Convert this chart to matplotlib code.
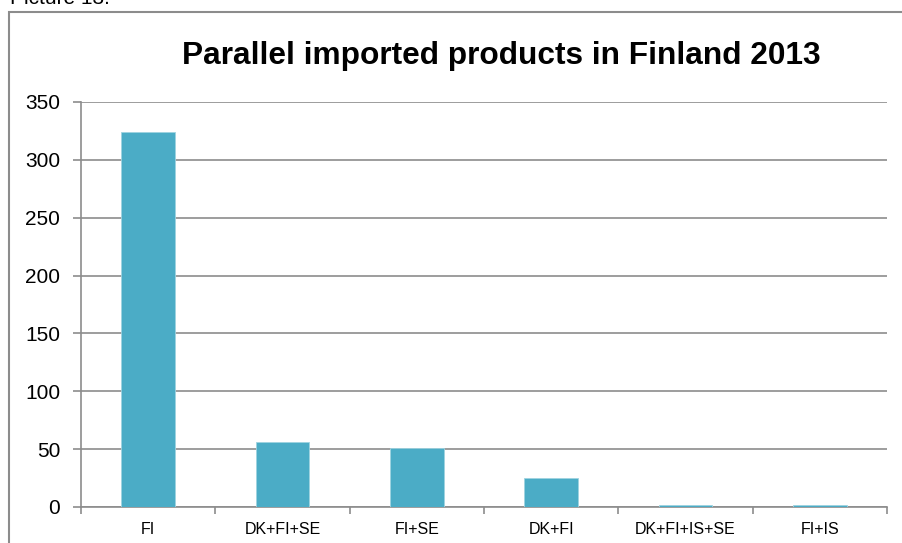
import matplotlib.pyplot as plt
from matplotlib.patches import Rectangle

plt.rcParams['font.family'] = ['Liberation Sans', 'DejaVu Sans']

categories = ["FI", "DK+FI+SE", "FI+SE", "DK+FI", "DK+FI+IS+SE", "FI+IS"]
values = [324, 56, 51, 25, 2, 2]
y_ticks = [0, 50, 100, 150, 200, 250, 300, 350]

W, H = 903, 543
fig = plt.figure(figsize=(W / 100, H / 100), dpi=100)

# outer frame, runs off the right and bottom edges like the cropped screenshot
fig.patches.append(Rectangle((9.5 / W, -0.1), 1.2, 1.1 - 12.5 / H,
                             transform=fig.transFigure, fill=False,
                             edgecolor="#8c8c8c", linewidth=1.5))
fig.text(10 / W, 1 - 4 / H, "Picture 13.", fontsize=15, va="baseline", ha="left")

ax = fig.add_axes([81 / W, 1 - 507 / H, (887 - 81) / W, (507 - 102) / H])
x = list(range(len(categories)))
ax.bar(x, values, width=0.4, color="#4BACC6", edgecolor="#9fd3e0", linewidth=0.6, zorder=3)

ax.set_xlim(-0.5, len(categories) - 0.5)
ax.set_ylim(0, 350)
ax.set_yticks(y_ticks)
ax.set_yticklabels([str(t) for t in y_ticks], fontsize=15)
ax.set_xticks(x)
ax.set_xticklabels(categories, fontsize=11.5)
ax.tick_params(axis="x", length=0, pad=11)
ax.tick_params(axis="y", length=6, width=1.2, color="#8c8c8c", pad=9)

# category boundary ticks
ax.set_xticks([i - 0.5 for i in range(len(categories) + 1)], minor=True)
ax.tick_params(axis="x", which="minor", length=5, width=1.2, color="#8c8c8c")

ax.grid(axis="y", color="#8c8c8c", linewidth=1.2, zorder=0)
for s in ["top", "right"]:
    ax.spines[s].set_visible(False)
for s in ["left", "bottom"]:
    ax.spines[s].set_color("#8c8c8c")
    ax.spines[s].set_linewidth(1.2)

fig.text(0.555, 1 - 56 / H, "Parallel imported products in Finland 2013",
         fontsize=22.8, fontweight="bold", ha="center", va="center")

fig.savefig("out.png", dpi=100)
